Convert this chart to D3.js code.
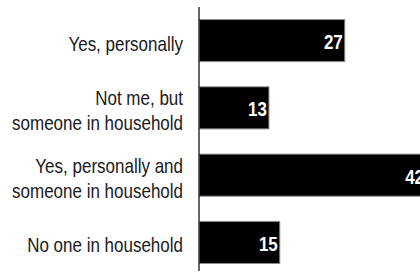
<!DOCTYPE html>
<html><head><meta charset="utf-8">
<script src="https://cdn.jsdelivr.net/npm/d3@7"></script>
<style>
html,body{margin:0;padding:0;background:#fff;}
svg{display:block;}
</style></head>
<body>
<svg id="chart" width="420" height="273"></svg>
<script>
const categories = [
  ["Yes, personally"],
  ["Not me, but", "someone in household"],
  ["Yes, personally and", "someone in household"],
  ["No one in household"]
];
const values = [27, 13, 42, 15];

const svg = d3.select("#chart");
const font = "'Liberation Sans',Arial,sans-serif";

const y = d3.scaleBand().domain(d3.range(categories.length)).range([19, 264]).paddingInner(0.36).paddingOuter(0);
const x = d3.scaleLinear().domain([0, 42]).range([199, 426.5]);

svg.selectAll("rect.bar").data(values).join("rect")
  .attr("class", "bar")
  .attr("x", x(0) + 0.5)
  .attr("y", (d, i) => y(i) + 0.5)
  .attr("width", d => x(d) - x(0) - 1)
  .attr("height", y.bandwidth() - 1)
  .attr("fill", "#000")
  .attr("stroke", "#8a8a8a")
  .attr("stroke-width", 1);

svg.append("line")
  .attr("x1", x(0)).attr("x2", x(0))
  .attr("y1", 7).attr("y2", 271)
  .attr("stroke", "#000").attr("stroke-width", 1.2);

svg.selectAll("text.val").data(values).join("text")
  .attr("class", "val")
  .attr("transform", (d, i) => `translate(${x(d) - 2.5},${y(i) + y.bandwidth() / 2 + 8.5}) scale(0.87,1)`)
  .attr("text-anchor", "end")
  .attr("fill", "#fff")
  .attr("font-family", font)
  .attr("font-weight", "bold")
  .attr("font-size", 19.5)
  .text(d => d);

const lh = 25;
const g = svg.selectAll("text.cat").data(categories).join("text")
  .attr("class", "cat")
  .attr("text-anchor", "end")
  .attr("fill", "#1a1a1a")
  .attr("font-family", font)
  .attr("font-size", 20)
  .attr("transform", (d, i) => `translate(183,${y(i) + y.bandwidth() / 2 + 10}) scale(0.85,1)`);
g.each(function(lines) {
  const t = d3.select(this);
  lines.forEach((ln, k) => {
    t.append("tspan")
      .attr("x", 0)
      .attr("y", (k - (lines.length - 1) / 2) * lh)
      .text(ln);
  });
});
</script>
</body></html>
